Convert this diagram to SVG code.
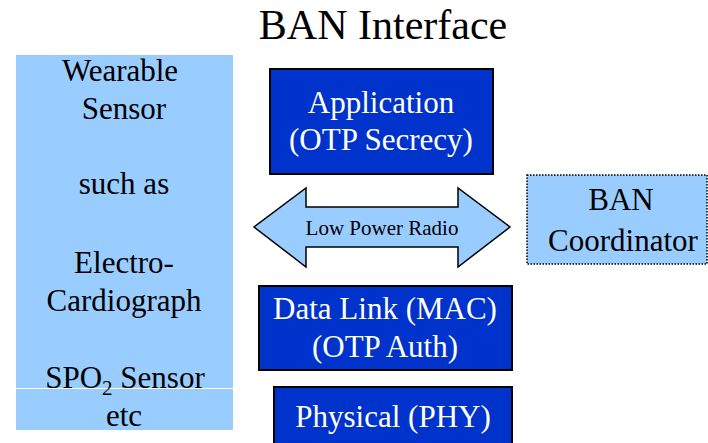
<svg xmlns="http://www.w3.org/2000/svg" width="708" height="443" viewBox="0 0 708 443">
<style>
text{text-anchor:middle;}
.big{font-size:31px;fill:#000;}
.wt{font-size:31px;fill:#fff;}
.layer{fill:#0033CC;stroke:#000;stroke-width:2;}
</style>
<rect width="708" height="443" fill="#fff"/>
<g font-family="Liberation Serif, DejaVu Serif, serif">
<text x="383" y="39" font-size="42">BAN Interface</text>
<g id="sensor">
<rect x="16" y="55" width="217" height="333" fill="#99CCFF"/>
<rect x="16" y="389" width="217" height="41" fill="#99CCFF"/>
<text class="big" x="120" y="81">Wearable</text>
<text class="big" x="124" y="119">Sensor</text>
<text class="big" x="124" y="194">such as</text>
<text class="big" x="124" y="273">Electro-</text>
<text class="big" x="124" y="311">Cardiograph</text>
<text class="big" x="125" y="388">SPO<tspan font-size="21" dy="7">2</tspan><tspan dy="-7"> Sensor</tspan></text>
<text class="big" x="124" y="426">etc</text>
</g>
<g id="application">
<rect class="layer" x="270" y="69" width="223" height="105"/>
<text class="wt" x="381" y="113">Application</text>
<text class="wt" x="381" y="150">(OTP Secrecy)</text>
</g>
<g id="datalink">
<rect class="layer" x="259" y="286" width="253" height="84"/>
<text class="wt" x="385" y="319">Data Link (MAC)</text>
<text class="wt" x="385" y="357">(OTP Auth)</text>
</g>
<g id="physical">
<rect class="layer" x="274" y="387" width="238" height="70"/>
<text class="wt" x="393" y="427">Physical (PHY)</text>
</g>
<g id="coordinator">
<rect x="527" y="175" width="180" height="89" fill="#99CCFF" stroke="#000" stroke-width="1.5" stroke-dasharray="1.5,1.5"/>
<text class="big" x="621" y="210">BAN</text>
<text class="big" x="623" y="251">Coordinator</text>
</g>
<g id="connectors">
<path d="M254,227 L306,188 L306,207 L458,207 L458,188 L510,227 L458,267 L458,247 L306,247 L306,267 Z" fill="#99CCFF" stroke="#000" stroke-width="1.5"/>
<text x="382" y="235" font-size="21">Low Power Radio</text>
</g>
</g>
</svg>
